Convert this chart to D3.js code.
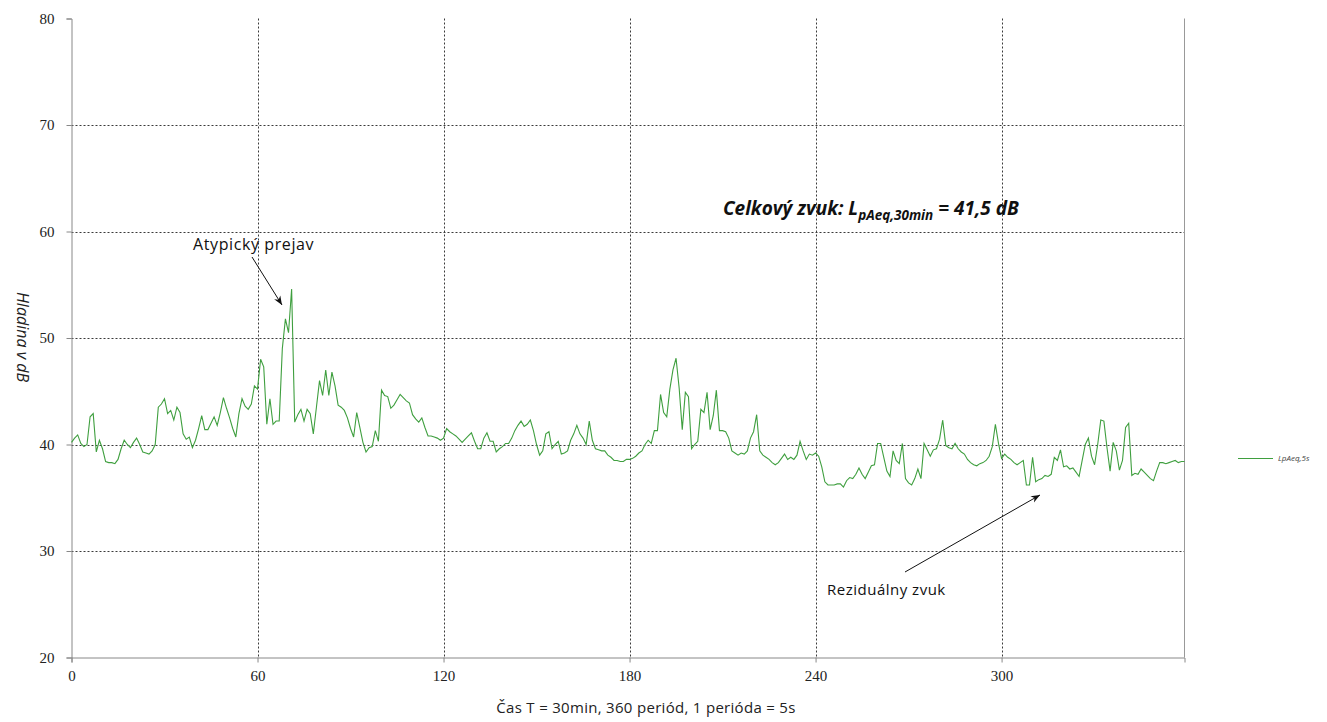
<!DOCTYPE html>
<html><head><meta charset="utf-8">
<script src="https://cdn.jsdelivr.net/npm/d3@7"></script>
<style>body{margin:0;background:#fff}svg{display:block}</style>
</head><body>
<svg id="c" width="1327" height="722"></svg>
<script>
const xTicks = [0, 60, 120, 180, 240, 300];
const yTicks = [20, 30, 40, 50, 60, 70, 80];
const seriesName = "LpAeq,5s";
const values = [
40.2,40.6,40.9,40.1,39.8,40.0,42.6,42.9,39.3,40.4,39.6,38.4,38.3,38.3,38.2,38.6,39.6,40.4,40.0,39.7,
40.2,40.6,40.0,39.3,39.2,39.1,39.4,40.0,43.5,43.8,44.3,42.9,43.2,42.3,43.5,43.0,41.0,40.5,40.7,39.7,
40.4,41.5,42.7,41.4,41.4,42.0,42.6,41.8,43.0,44.4,43.4,42.5,41.5,40.7,42.9,44.3,43.6,43.3,43.8,45.5,
45.2,48.0,47.3,41.9,44.3,41.9,42.2,42.2,49.0,51.8,50.5,54.6,42.1,42.8,43.3,42.2,43.3,42.9,41.0,43.5,
46.0,44.6,47.0,44.6,46.8,45.5,43.7,43.5,43.2,42.5,41.5,40.7,43.0,41.6,40.2,39.3,39.7,39.8,41.3,40.3,
45.1,44.6,44.5,43.4,43.7,44.2,44.7,44.4,44.1,43.9,42.8,42.4,42.1,42.5,41.6,40.8,40.8,40.7,40.6,40.4,
40.6,41.5,41.2,41.0,40.8,40.5,40.2,40.5,40.8,41.1,40.3,39.6,39.6,40.6,41.1,40.3,40.3,39.3,39.6,39.8,
40.1,40.1,40.6,41.3,41.8,42.2,41.7,41.9,42.3,41.3,40.0,39.0,39.4,41.0,41.2,39.6,40.0,40.3,39.1,39.2,
39.4,40.4,41.0,41.8,41.0,40.6,40.0,42.2,40.4,39.6,39.5,39.4,39.4,39.0,38.8,38.5,38.5,38.4,38.4,38.6,
38.6,38.7,38.9,39.2,39.4,40.0,40.4,40.1,41.3,41.3,44.7,43.0,42.6,45.2,47.0,48.1,45.3,41.4,44.9,44.5,
39.6,40.0,40.3,43.3,43.0,44.9,41.4,42.7,45.1,41.3,41.3,41.2,40.6,39.4,39.2,39.0,39.2,39.1,39.4,40.6,
41.2,42.8,39.4,39.0,38.8,38.6,38.3,38.1,38.3,38.7,39.1,38.6,38.8,38.6,39.0,40.3,39.4,38.6,39.1,39.0,
39.2,38.9,37.9,36.5,36.2,36.2,36.2,36.3,36.3,36.0,36.6,36.9,36.8,37.2,37.8,37.2,36.8,37.4,38.0,38.1,
40.1,40.1,38.8,37.5,37.0,39.4,38.5,38.2,40.1,36.8,36.4,36.2,36.8,37.7,36.8,40.1,39.5,38.9,39.5,39.6,
40.5,42.3,39.9,39.7,39.6,40.1,39.6,39.3,39.1,38.6,38.3,38.1,38.0,38.2,38.3,38.5,38.9,39.8,41.9,40.1,
38.7,39.1,38.8,38.6,38.3,38.1,38.3,38.5,36.2,36.2,38.8,36.5,36.7,36.8,37.1,37.0,37.2,38.8,38.5,39.5,
37.9,38.0,37.7,37.8,37.4,37.0,38.5,40.0,40.6,38.9,38.1,40.0,42.3,42.2,39.7,37.5,40.2,39.4,37.6,38.5,
41.6,42.0,37.1,37.3,37.2,37.7,37.4,37.1,36.8,36.6,37.5,38.3,38.3,38.2,38.3,38.4,38.5,38.3,38.4,38.4
];

const svg = d3.select("#c");
const L = 71.5, R = 1184.5, T = 18.5, B = 657.5;
const x = d3.scaleLinear().domain([0, 359]).range([L, R]);
const y = d3.scaleLinear().domain([20, 80]).range([B, T]);

// gridlines
const grid = svg.append("g").attr("stroke", "#3a3a3a").attr("stroke-dasharray", "2,2").attr("stroke-width", 1);
grid.selectAll("line.h").data(yTicks.filter(d => d > 20 && d < 80)).enter().append("line")
  .attr("x1", L).attr("x2", R).attr("y1", d => Math.round(y(d)) + 0.5).attr("y2", d => Math.round(y(d)) + 0.5);
grid.selectAll("line.v").data(xTicks.filter(d => d > 0)).enter().append("line")
  .attr("y1", T).attr("y2", B).attr("x1", d => Math.round(x(d)) + 0.5).attr("x2", d => Math.round(x(d)) + 0.5);

// right border
svg.append("line").attr("x1", R).attr("x2", R).attr("y1", T).attr("y2", B).attr("stroke", "#999");

// axes
const yAxis = d3.axisLeft(y).tickValues(yTicks).tickSize(5).tickPadding(12);
const gy = svg.append("g").attr("transform", `translate(${L},0)`).call(yAxis);
const xAxis = d3.axisBottom(x).tickValues(xTicks).tickSize(5).tickPadding(8);
const gx = svg.append("g").attr("transform", `translate(0,${B})`).call(xAxis);
[gx, gy].forEach(g => {
  g.select(".domain").attr("stroke", "#888");
  g.selectAll(".tick line").attr("stroke", "#888");
  g.selectAll(".tick text").attr("fill", "#222").style("font-family", "'Liberation Serif', serif").style("font-size", "15px");
});

// data line
const line = d3.line().x((d, i) => x(i)).y(d => y(d));
svg.append("path").datum(values).attr("d", line).attr("fill", "none")
  .attr("stroke", "#3f9f3f").attr("stroke-width", 1.1);

// legend
svg.append("line").attr("x1", 1238).attr("x2", 1273).attr("y1", 458.5).attr("y2", 458.5)
  .attr("stroke", "#3f9f3f").attr("stroke-width", 1.2);
svg.append("text").attr("x", 1278).attr("y", 461).text(seriesName)
  .style("font-family", "'Open Sans', sans-serif").style("font-size", "8px").style("font-style", "italic").attr("fill", "#444");

// y label
svg.append("text").attr("transform", "translate(17,337) rotate(90)").attr("text-anchor", "middle")
  .style("font-family", "'Open Sans', sans-serif").style("font-style", "italic").style("font-size", "16px")
  .attr("fill", "#222").text("Hladina v dB");

// x label
svg.append("text").attr("x", 646).attr("y", 713).attr("text-anchor", "middle")
  .style("font-family", "'Open Sans', sans-serif").style("font-size", "15px").style("letter-spacing", "0.3px").attr("fill", "#222")
  .text("Čas T = 30min, 360 periód, 1 perióda = 5s");

// title annotation
const t = svg.append("text").attr("x", 723).attr("y", 215)
  .style("font-family", "'Open Sans', sans-serif").style("font-style", "italic").style("font-weight", "bold")
  .style("font-size", "19px").attr("fill", "#111");
t.append("tspan").text("Celkový zvuk: L");
t.append("tspan").attr("dy", 5).style("font-size", "13.5px").text("pAeq,30min");
t.append("tspan").attr("dy", -5).text(" = 41,5 dB");

// arrows
const defs = svg.append("defs");
defs.append("marker").attr("id", "ah").attr("viewBox", "0 0 10 10").attr("refX", 10).attr("refY", 5)
  .attr("markerWidth", 9).attr("markerHeight", 9).attr("orient", "auto")
  .append("path").attr("d", "M0,1 L10,5 L0,9 L3,5 Z").attr("fill", "#111");

svg.append("text").attr("x", 193).attr("y", 250)
  .style("font-family", "'Open Sans', sans-serif").style("font-size", "16px").style("letter-spacing", "0.6px").attr("fill", "#111").text("Atypický prejav");
svg.append("line").attr("x1", 252).attr("y1", 257).attr("x2", 282).attr("y2", 305)
  .attr("stroke", "#111").attr("stroke-width", 1).attr("marker-end", "url(#ah)");

svg.append("text").attr("x", 827).attr("y", 595)
  .style("font-family", "'Open Sans', sans-serif").style("font-size", "15px").style("letter-spacing", "0.5px").attr("fill", "#111").text("Reziduálny zvuk");
svg.append("line").attr("x1", 905).attr("y1", 572).attr("x2", 1040).attr("y2", 495)
  .attr("stroke", "#111").attr("stroke-width", 1).attr("marker-end", "url(#ah)");
</script>
</body></html>
